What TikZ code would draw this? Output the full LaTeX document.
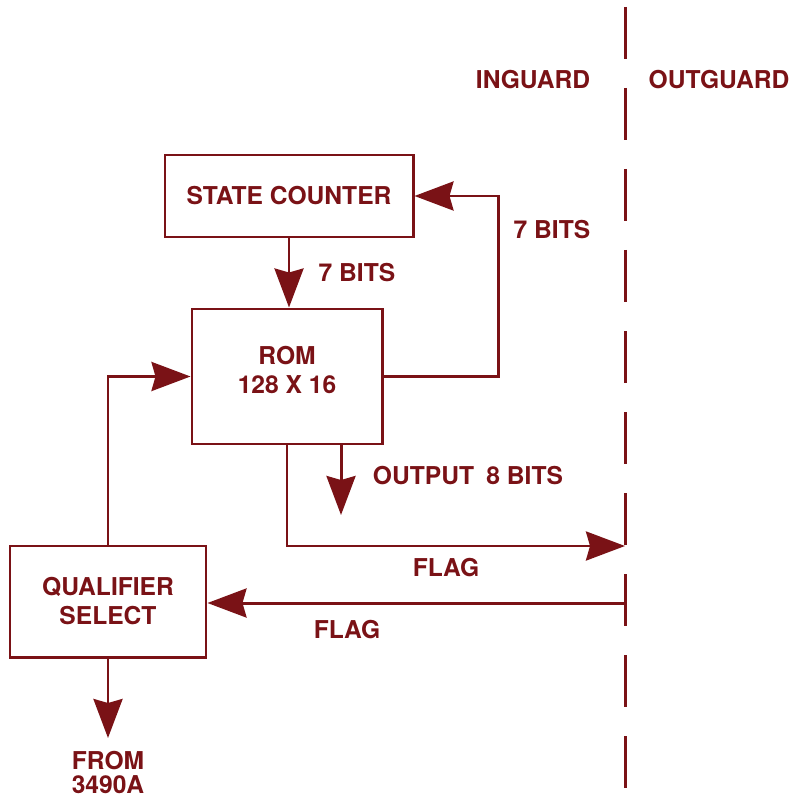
\documentclass[tikz,border=0pt]{standalone}
\usepackage{fontspec}
\setmainfont{TeX Gyre Heros}
\usetikzlibrary{arrows.meta}
\definecolor{maroon}{RGB}{122,18,22}
\begin{document}
\begin{tikzpicture}[
    every node/.style={font=\bfseries\fontsize{14}{16.5}\selectfont, text=maroon, align=center},
    block/.style={rectangle, draw=maroon, line width=1.7pt, inner sep=4pt},
    arr/.style={-{Stealth[length=0.78cm, width=0.58cm, inset=0.08cm]}, line width=1.7pt, draw=maroon},
    guard/.style={line width=1.7pt, draw=maroon, dash pattern=on 1.04cm off 0.58cm},
]
    \useasboundingbox (0, 0) rectangle (15.88, -16);
    % blocks
    \node[block, minimum width=4.96cm, minimum height=1.64cm] (counter) at (5.78, -3.92) {STATE COUNTER};
    \node[block, minimum width=3.8cm, minimum height=2.7cm, text depth=0.25cm] (rom) at (5.74, -7.53) {ROM\\128 X 16};
    \node[block, minimum width=3.92cm, minimum height=2.22cm] (qual) at (2.16, -12.03) {QUALIFIER\\SELECT};
    \node[anchor=north, inner sep=1pt] (from) at (2.16, -14.98) {FROM\\[-3pt]3490A};
    % guard line
    \coordinate (flagout) at (12.5, -10.92);
    \coordinate (flagin) at (12.5, -12.06);
    \coordinate (outend) at (6.82, -10.3);
    \draw[guard] (12.5, -0.14) -- (12.5, -15.8);
    \node (inguard) at (10.66, -1.6) {INGUARD};
    \node (outguard) at (14.38, -1.6) {OUTGUARD};
    % connectors
    \draw[arr] (counter.south) -- (counter.south |- rom.north);
    \node (bits1) at (7.14, -5.46) {7 BITS};
    \draw[arr] (rom.east) -- ++(2.3, 0) |- (counter.east);
    \node (bits2) at (11.04, -4.6) {7 BITS};
    \draw[arr] (rom.south -| outend) -- (outend);
    \node (output) at (9.36, -9.52) {OUTPUT\enspace 8 BITS};
    \draw[arr] (rom.south) |- (flagout);
    \node (flag1) at (8.92, -11.36) {FLAG};
    \draw[arr] (qual.north) |- (rom.west);
    \draw[arr] (flagin) -- (qual.east |- flagin);
    \node (flag2) at (6.94, -12.6) {FLAG};
    \draw[arr, shorten >=0.22cm] (qual.south) -- (from.north);
\end{tikzpicture}
\end{document}
